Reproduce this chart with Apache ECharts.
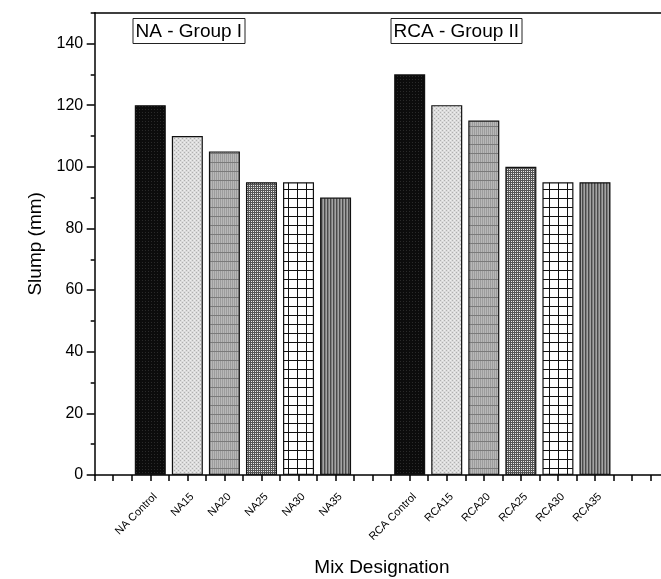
<!DOCTYPE html>
<html>
<head>
<meta charset="utf-8">
<script src="https://cdn.jsdelivr.net/npm/echarts@6/dist/echarts.min.js"></script>
<style>
html,body{margin:0;padding:0;background:#fff;}
#chart{width:661px;height:579px;}
</style>
</head>
<body>
<div id="chart"></div>
<script>
// ---- data ----
const categories = ['NA Control','NA15','NA20','NA25','NA30','NA35','RCA Control','RCA15','RCA20','RCA25','RCA30','RCA35'];
const positions = [1,2,3,4,5,6,8,9,10,11,12,13];
const slump = [120,110,105,95,95,90,130,120,115,100,95,95];
const yMajorTicks = [0,20,40,60,80,100,120,140];
const groupLabels = ['NA - Group I','RCA - Group II'];

// ---- patterns (styling only) ----
function makeTile(w, h, draw) {
  const c = document.createElement('canvas');
  c.width = w; c.height = h;
  const ctx = c.getContext('2d');
  draw(ctx, w, h);
  return c;
}
function px(ctx, x, y, col) { ctx.fillStyle = col; ctx.fillRect(x, y, 1, 1); }

const pControl = makeTile(3, 3, (ctx) => {
  ctx.fillStyle = '#0c0c0c'; ctx.fillRect(0,0,3,3);
  px(ctx,1,1,'#2a2a2a');
});
const p15 = makeTile(4, 4, (ctx) => {
  ctx.fillStyle = '#dcdcdc'; ctx.fillRect(0,0,4,4);
  px(ctx,0,0,'#b0b0b0'); px(ctx,2,2,'#b0b0b0'); px(ctx,2,0,'#eeeeee'); px(ctx,0,2,'#eeeeee');
});
const p20 = makeTile(2, 9, (ctx) => {
  ctx.fillStyle = '#b8b8b8'; ctx.fillRect(0,0,2,9);
  ctx.fillStyle = '#9c9c9c'; ctx.fillRect(0,0,1,9);
  ctx.fillStyle = '#7a7a7a'; ctx.fillRect(0,0,2,1);
});
const p25 = makeTile(2, 2, (ctx) => {
  ctx.fillStyle = '#e8e8e8'; ctx.fillRect(0,0,2,2);
  ctx.fillStyle = '#555555'; ctx.fillRect(0,0,2,1); ctx.fillRect(0,0,1,2);
});
const p30 = makeTile(9, 9, (ctx) => {
  ctx.fillStyle = '#ffffff'; ctx.fillRect(0,0,9,9);
  ctx.fillStyle = '#111111'; ctx.fillRect(0,0,9,1); ctx.fillRect(0,0,1,9);
});
const p35 = makeTile(3, 4, (ctx) => {
  ctx.fillStyle = '#7e7e7e'; ctx.fillRect(0,0,3,4);
  ctx.fillStyle = '#4a4a4a'; ctx.fillRect(0,0,1,4);
  ctx.fillStyle = '#a4a4a4'; ctx.fillRect(2,0,1,4);
});
const patterns = [pControl, p15, p20, p25, p30, p35];

const FONT = 'Liberation Sans, Arial, sans-serif';

const xTickValues = [];
for (let v = -0.5; v <= 14.51; v += 0.5) xTickValues.push(Math.round(v * 10) / 10);

const barData = positions.map((p, i) => ({
  value: [p, slump[i]],
  itemStyle: { color: { image: patterns[i % 6], repeat: 'repeat' } }
}));

const chart = echarts.init(document.getElementById('chart'), null, { renderer: 'canvas' });
chart.setOption({
  animation: false,
  backgroundColor: '#ffffff',
  title: [
    { text: groupLabels[0], left: 132.5, top: 18, borderWidth: 1, borderColor: '#222', padding: [4, 3, 3, 3],
      textStyle: { fontSize: 19, fontWeight: 'normal', color: '#000', fontFamily: FONT } },
    { text: groupLabels[1], left: 390.5, top: 18, borderWidth: 1, borderColor: '#222', padding: [4, 3, 3, 3],
      textStyle: { fontSize: 19, fontWeight: 'normal', color: '#000', fontFamily: FONT } }
  ],
  grid: { left: 94.7, top: 12.7, width: 574.4, height: 462.3, outerBoundsMode: 'none', containLabel: false },
  xAxis: [
    {
      type: 'value', min: -0.5, max: 15, position: 'bottom',
      name: 'Mix Designation', nameLocation: 'middle', nameGap: 83,
      nameTextStyle: { fontSize: 19, color: '#000', fontFamily: FONT },
      axisLine: { show: true, onZero: false, lineStyle: { color: '#000', width: 1.5 } },
      axisTick: { show: true, customValues: xTickValues, length: 6, lineStyle: { color: '#000', width: 1.5 } },
      axisLabel: {
        customValues: positions, rotate: 45, fontSize: 11, color: '#000', fontFamily: FONT, margin: 25,
        padding: [0, -7, 0, 0],
        formatter: (v) => { const i = positions.indexOf(Math.round(v)); return i >= 0 ? categories[i] : ''; }
      },
      splitLine: { show: false }
    },
    {
      type: 'value', min: -0.5, max: 15, position: 'top',
      axisLine: { show: true, onZero: false, lineStyle: { color: '#000', width: 1.5 } },
      axisTick: { show: false }, axisLabel: { show: false }, splitLine: { show: false }
    }
  ],
  yAxis: [
    {
      type: 'value', min: 0, max: 150, position: 'left',
      name: 'Slump (mm)', nameLocation: 'middle', nameGap: 45,
      nameTextStyle: { fontSize: 19, color: '#000', fontFamily: FONT },
      axisLine: { show: true, onZero: false, lineStyle: { color: '#000', width: 1.5 } },
      axisTick: { show: true, customValues: yMajorTicks, length: 8, lineStyle: { color: '#000', width: 1.5 } },
      axisLabel: { customValues: yMajorTicks, fontSize: 16, color: '#000', fontFamily: FONT, margin: 11.5 },
      splitLine: { show: false }
    },
    {
      type: 'value', min: 0, max: 150, interval: 10, position: 'left',
      axisLine: { show: false, onZero: false },
      axisTick: { show: true, length: 4, lineStyle: { color: '#000', width: 1.5 } },
      axisLabel: { show: false }, splitLine: { show: false }
    }
  ],
  series: [{
    type: 'bar', xAxisIndex: 0, yAxisIndex: 0, barWidth: 31,
    itemStyle: { borderColor: '#111', borderWidth: 1.2 },
    data: barData
  }]
});
</script>
</body>
</html>
